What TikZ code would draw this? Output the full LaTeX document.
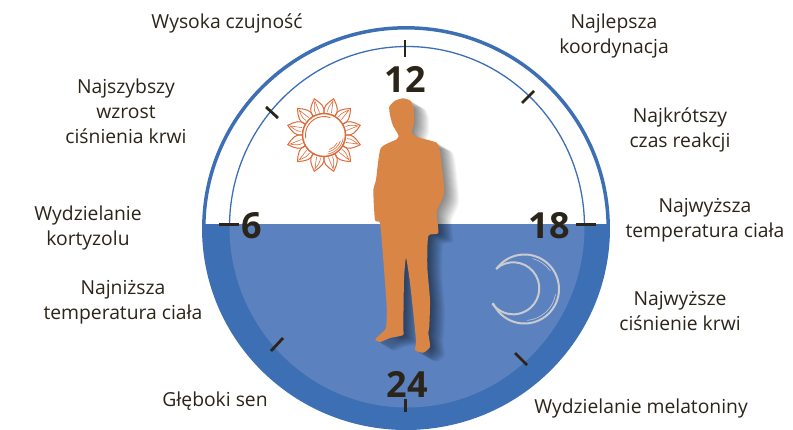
\documentclass[tikz,border=0pt]{standalone}
\usepackage{fontspec}
\setmainfont{Open Sans}
\definecolor{ringblue}{HTML}{3D6FB4}
\definecolor{discblue}{HTML}{5B82BF}
\definecolor{personorange}{HTML}{D98545}
\definecolor{sunorange}{HTML}{DD6A3A}
\definecolor{moongray}{HTML}{C9CBCF}
\definecolor{inkbrown}{HTML}{2B2419}
\newcommand{\personoutline}{plot[smooth cycle,tension=0.35] coordinates {
  (389.3,106.7) (395.0,100.7) (403.3,98.3) (410.7,101.0) (414.0,110.0) (414.0,123.0) (411.7,131.7)
  (416.0,136.7) (436.7,142.7) (440.0,151.7) (444.0,186.7) (443.3,196.7) (436.7,211.7) (438.3,233.0)
  (428.3,236.0) (427.3,266.7) (430.0,300.0) (429.3,326.7) (428.3,333.0) (430.0,346.7) (423.3,352.7)
  (415.0,350.0) (416.0,340.0) (410.0,283.0) (406.0,258.0) (404.0,280.0) (403.3,328.0) (403.3,335.0)
  (390.0,338.0) (380.0,342.0) (375.3,339.3) (381.7,333.0) (386.0,328.0) (386.7,307.0) (383.3,260.0)
  (380.0,223.0) (375.0,220.0) (373.3,190.0) (376.0,180.0) (380.7,148.3) (396.7,139.3) (398.3,135.0)
  (392.7,125.0) (390.0,115.0)}}
\begin{document}
\begin{tikzpicture}[x=1pt, y=-1pt, line cap=butt,
    label/.style={align=center, inner sep=0pt, text=inkbrown, font=\fontsize{19.3}{25}\selectfont},
    hour/.style={inner sep=0pt, text=inkbrown, font=\fontsize{36}{36}\selectfont\bfseries},
    tick/.style={draw=inkbrown, line width=2.8pt},
    sunline/.style={draw=sunorange, line width=1.0pt},
    moonline/.style={draw=moongray, line width=2.0pt}]

  %% ════ dial ════
  \begin{scope}
    \clip (190,224) rectangle (620,440);
    \fill[ringblue] (406,228) ellipse [x radius=204, y radius=202];
    \fill[discblue] (407,227) ellipse [x radius=177.5, y radius=180.5];
  \end{scope}
  \begin{scope}
    \clip (190,0) rectangle (620,224);
    \draw[ringblue, line width=3.5pt] (406,228) ellipse [x radius=202.2, y radius=200.2];
    \draw[ringblue, line width=1.3pt] (407,227) ellipse [x radius=177.5, y radius=180.5];
  \end{scope}

  %% ════ ticks ════
  \draw[tick] (405,40) -- (405,57);
  \draw[tick] (522,103) -- (534,91);
  \draw[tick] (576,224.5) -- (596,224.5);
  \draw[tick] (515,353) -- (527,365);
  \draw[tick] (405.7,399) -- (405.7,412);
  \draw[tick] (271,351) -- (283,338);
  \draw[tick] (219,224.5) -- (239,224.5);
  \draw[tick] (266,107) -- (278,118);

  %% ════ sun ════
  \foreach \ang in {15,45,...,345}{
    \begin{scope}[shift={(324,135)}, rotate=\ang]
      \draw[sunline] (21,-5.5) .. controls (26,-9) and (32,-5) .. (37.5,0) .. controls (32,5) and (26,9) .. (21,5.5);
      \draw[sunline, line width=0.6pt] (23,-2.5) .. controls (27,-3.5) and (31,-2) .. (35,0) .. controls (31,0.5) and (27,1) .. (23,1.5);
    \end{scope}
  }
  \draw[sunline, fill=white, line width=1.5pt] (324,135) circle (21.5);
  \draw[sunline, line width=0.9pt] (324,135) ++(170:18.5) arc[start angle=170, end angle=290, radius=18.5];
  \foreach \rad/\st/\en in {19.5/10/80, 17.5/20/75, 15.5/30/70}{
    \draw[sunline, line width=0.6pt] (324,135) ++(\st:\rad) arc[start angle=\st, end angle=\en, radius=\rad];
  }

  %% ════ moon ════
  \draw[moonline] (524.5,289) ++(-145:34.5) arc[start angle=-145, end angle=156, radius=34.5];
  \draw[moonline] (513.3,288.3) ++(-131:26) arc[start angle=-131, end angle=144, radius=26];
  \draw[moonline, line width=0.6pt] (524.5,289) ++(-75:31.5) arc[start angle=-75, end angle=-35, radius=31.5];
  \draw[moonline, line width=0.6pt] (524.5,289) ++(10:31.5) arc[start angle=10, end angle=85, radius=31.5];

  %% ════ person ════
  \foreach \i in {1,...,15}{
    \fill[black, opacity=0.04, shift={(\i,0.6*\i)}] \personoutline;
  }
  \fill[personorange] \personoutline;

  %% ════ hours ════
  \node[hour] (h12) at (405,79) {12};
  \node[hour] (h18) at (549,226) {18};
  \node[hour] (h24) at (407,384) {24};
  \node[hour] (h6) at (252,226) {6};

  %% ════ labels ════
  \node[label] (alert) at (227,23) {Wysoka czujność};
  \node[label] (coord) at (614,36) {Najlepsza\\koordynacja};
  \node[label] (press) at (126,111) {Najszybszy\\wzrost\\ciśnienia krwi};
  \node[label] (react) at (680,130) {Najkrótszy\\czas reakcji};
  \node[label] (temphi) at (705,220) {Najwyższa\\temperatura ciała};
  \node[label] (cort) at (88,228) {Wydzielanie\\kortyzolu};
  \node[label] (templo) at (123,302) {Najniższa\\temperatura ciała};
  \node[label] (presshi) at (680,311) {Najwyższe\\ciśnienie krwi};
  \node[label] (sleep) at (215,401) {Głęboki sen};
  \node[label] (melat) at (641,408) {Wydzielanie melatoniny};

  \pgfresetboundingbox
  \path[use as bounding box] (0,0) rectangle (793,429);
\end{tikzpicture}
\end{document}
